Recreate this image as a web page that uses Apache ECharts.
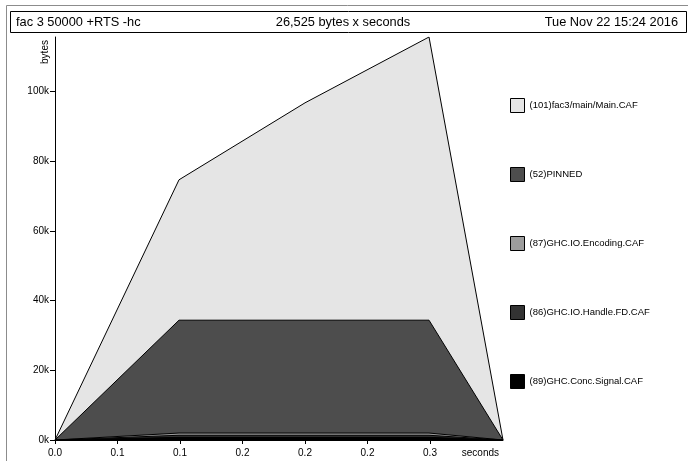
<!DOCTYPE html>
<html>
<head>
<meta charset="utf-8">
<script src="https://cdn.jsdelivr.net/npm/echarts@6/dist/echarts.min.js"></script>
<style>
  html, body { margin: 0; padding: 0; background: #fff; }
  #chart { width: 688px; height: 461px; }
</style>
</head>
<body>
<div id="chart"></div>
<script>
// sample times (seconds) and bytes per cost centre, bottom band first
const times = [0, 0.0992, 0.2, 0.2992, 0.3584];
const signalBytes = [0, 760, 760, 760, 0];
const handleBytes = [0, 600, 600, 600, 0];
const encodingBytes = [0, 640, 640, 640, 0];
const pinnedBytes = [0, 32400, 32400, 32400, 0];
const mainBytes = [0, 40300, 62400, 81300, 0];

const bandNames = [
  '(89)GHC.Conc.Signal.CAF',
  '(86)GHC.IO.Handle.FD.CAF',
  '(87)GHC.IO.Encoding.CAF',
  '(52)PINNED',
  '(101)fac3/main/Main.CAF'
];
const bandValues = [signalBytes, handleBytes, encodingBytes, pinnedBytes, mainBytes];

const xTicks = [0, 0.05, 0.1, 0.15, 0.2, 0.25, 0.3];
const xTickLabels = ['0.0', '0.1', '0.1', '0.2', '0.2', '0.2', '0.3'];
const yTicks = [0, 20000, 40000, 60000, 80000, 100000];
const yTickLabels = ['0k', '20k', '40k', '60k', '80k', '100k'];

const headerLeft = 'fac 3 50000 +RTS -hc';
const headerMid = '26,525 bytes x seconds';
const headerRight = 'Tue Nov 22 15:24 2016';

const bandColors = ['#000000', '#333333', '#9c9c9c', '#4d4d4d', '#e5e5e5'];
const font = '"Liberation Sans", Arial, sans-serif';

// running totals so every band sits on the ones below it
const cumulative = [];
bandValues.forEach((vals, k) => {
  cumulative.push(vals.map((v, i) => v + (k ? cumulative[k - 1][i] : 0)));
});
const peak = Math.max(...cumulative[cumulative.length - 1]);

const chart = echarts.init(document.getElementById('chart'));

// top band first, lower bands painted over it
const series = bandNames.map((name, k) => ({
  name: name,
  type: 'line',
  showSymbol: false,
  symbol: 'none',
  data: times.map((t, i) => [t, cumulative[k][i]]),
  lineStyle: { color: '#000', width: 1 },
  itemStyle: { color: bandColors[k], borderColor: '#000', borderWidth: 1 },
  areaStyle: { color: bandColors[k], opacity: 1, origin: 'start' },
  z: 2 + (bandNames.length - k)
})).reverse();

chart.setOption({
  animation: false,
  textStyle: { fontFamily: font },
  grid: { left: 55, top: 37, right: 185, bottom: 21, containLabel: false },
  legend: {
    orient: 'vertical',
    left: 510,
    top: 98,
    padding: 0,
    icon: 'rect',
    itemWidth: 14,
    itemHeight: 14,
    itemGap: 54,
    selectedMode: false,
    data: bandNames.slice().reverse(),
    itemStyle: { borderColor: '#000', borderWidth: 1 },
    textStyle: { fontFamily: font, fontSize: 9.5, color: '#000' }
  },
  xAxis: {
    type: 'value',
    min: 0,
    max: times[times.length - 1],
    name: 'seconds',
    nameLocation: 'end',
    nameGap: -4,
    nameTextStyle: { fontFamily: font, fontSize: 10, color: '#000', align: 'right', verticalAlign: 'top', padding: [8, 0, 0, 0] },
    axisLine: { lineStyle: { color: '#000', width: 1 } },
    axisTick: { length: 4, lineStyle: { color: '#000' }, customValues: xTicks },
    axisLabel: {
      customValues: xTicks,
      margin: 8,
      fontSize: 10,
      color: '#000',
      formatter: v => xTickLabels[Math.round(v / 0.05)]
    },
    splitLine: { show: false }
  },
  yAxis: {
    type: 'value',
    min: 0,
    max: peak,
    axisLine: { show: true, lineStyle: { color: '#000', width: 1 } },
    axisTick: { show: true, length: 5, lineStyle: { color: '#000' }, customValues: yTicks },
    axisLabel: {
      customValues: yTicks,
      margin: 6,
      fontSize: 10,
      color: '#000',
      verticalAlign: 'middle',
      padding: [0, 0, 4, 0],
      formatter: v => yTickLabels[Math.round(v / 20000)]
    },
    splitLine: { show: false }
  },
  graphic: [
    { type: 'rect', shape: { x: 6.5, y: 5.5, width: 720, height: 500 }, style: { fill: 'none', stroke: '#8c8c8c', lineWidth: 1 }, silent: true },
    { type: 'rect', shape: { x: 10.5, y: 11.5, width: 676, height: 21 }, style: { fill: '#fff', stroke: '#000', lineWidth: 1 }, silent: true },
    { type: 'text', x: 16, y: 22, style: { text: headerLeft, font: '12.8px ' + font, fill: '#000', textAlign: 'left', textVerticalAlign: 'middle' } },
    { type: 'text', x: 343, y: 22, style: { text: headerMid, font: '12.8px ' + font, fill: '#000', textAlign: 'center', textVerticalAlign: 'middle' } },
    { type: 'text', x: 678, y: 22, style: { text: headerRight, font: '12.8px ' + font, fill: '#000', textAlign: 'right', textVerticalAlign: 'middle' } },
    { type: 'text', x: 45, y: 52, rotation: Math.PI / 2, style: { text: 'bytes', font: '10px ' + font, fill: '#000', textAlign: 'center', textVerticalAlign: 'middle' } }
  ],
  series: series
});
</script>
</body>
</html>
